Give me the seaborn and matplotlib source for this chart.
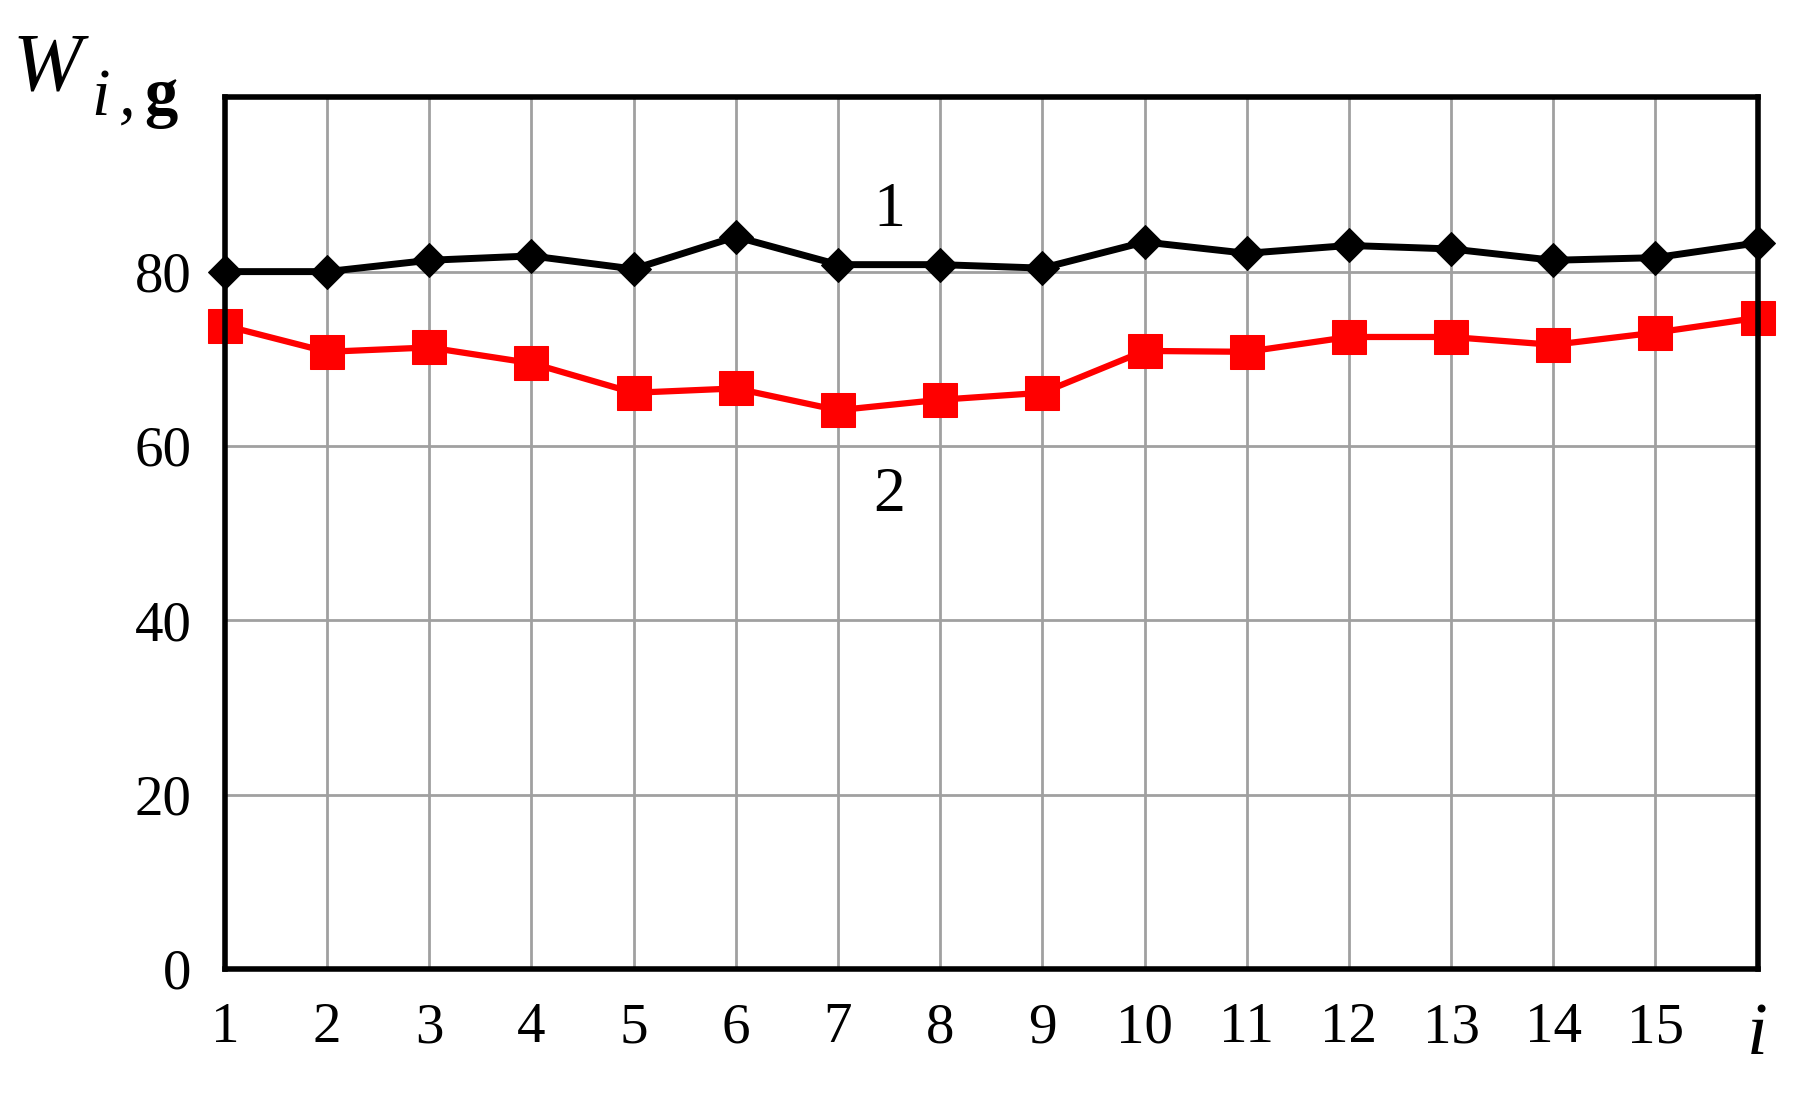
import numpy as np
import pandas as pd
import seaborn as sns
import matplotlib
matplotlib.use("Agg")
import matplotlib.pyplot as plt

# data
i_vals = list(range(1, 17))
w_series1 = [80.0, 80.0, 81.3, 81.8, 80.3, 84.0, 80.8, 80.8, 80.4, 83.4,
             82.1, 83.0, 82.6, 81.3, 81.6, 83.3]
w_series2 = [73.8, 70.8, 71.3, 69.5, 66.1, 66.6, 64.1, 65.3, 66.1, 70.9,
             70.8, 72.5, 72.5, 71.6, 73.0, 74.7]
x_tick_labels = [str(k) for k in range(1, 16)] + ['i']
y_ticks = [0, 20, 40, 60, 80]

df = pd.DataFrame({'i': i_vals, 'w1': w_series1, 'w2': w_series2})

sns.set_style('white')
plt.rcParams['font.family'] = ['Liberation Serif', 'DejaVu Serif']
plt.rcParams['text.color'] = 'black'
plt.rcParams['xtick.labelcolor'] = 'black'
plt.rcParams['ytick.labelcolor'] = 'black'

fig = plt.figure(figsize=(17.99, 10.93), dpi=100)
ax = fig.add_axes([0.125, 0.1135, 0.852, 0.7975])

sns.lineplot(data=df, x='i', y='w1', ax=ax, color='black', lw=5,
             marker='D', markersize=17, markeredgecolor='black', clip_on=False, zorder=4)
sns.lineplot(data=df, x='i', y='w2', ax=ax, color='#ff0000', lw=4.5,
             marker='s', markersize=24, markeredgecolor='#ff0000', clip_on=False, zorder=4)

ax.set_xlim(1, 16)
ax.set_ylim(0, 100)
ax.set_xticks(i_vals)
ax.set_xticklabels(x_tick_labels)
ax.set_yticks(y_ticks)
ax.grid(True, color='#a0a0a0', lw=2)
ax.set_axisbelow(True)
for s in ax.spines.values():
    s.set_color('black')
    s.set_linewidth(4)
    s.set_zorder(5)
ax.tick_params(axis='both', direction='out', length=14, width=2, color='#a0a0a0',
               labelsize=41, pad=10, labelcolor='black')
for lab in ax.get_xticklabels():
    if lab.get_text() == 'i':
        lab.set_fontstyle('italic')
        lab.set_fontsize(54)
ax.set_xlabel('')
ax.set_ylabel('')

ax.text(7.5, 87, '1', fontsize=46, ha='center', va='center')
ax.text(7.5, 54.3, '2', fontsize=46, ha='center', va='center')

# y axis title W_i, g
fig.text(0.007, 0.918, 'W', fontsize=60, style='italic', ha='left', va='baseline')
fig.text(0.051, 0.895, 'i', fontsize=48, style='italic', ha='left', va='baseline')
fig.text(0.066, 0.895, ',', fontsize=48, style='italic', ha='left', va='baseline')
fig.text(0.080, 0.895, 'g', fontsize=48, weight='bold', ha='left', va='baseline')

fig.savefig('out.png', dpi=100)
